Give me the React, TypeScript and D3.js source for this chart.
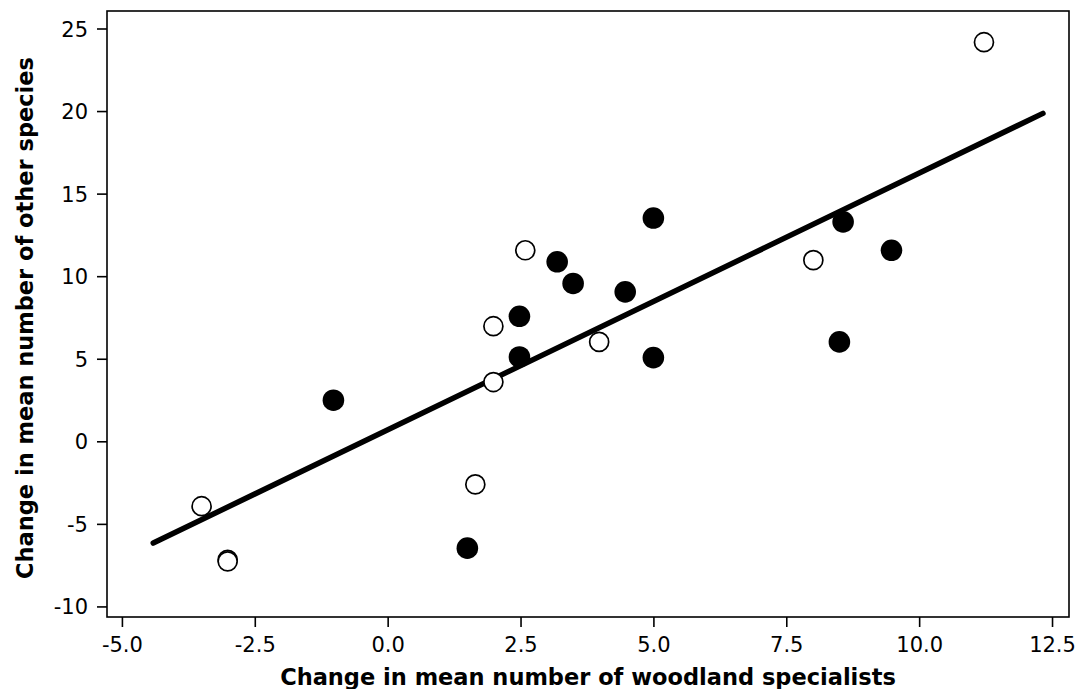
import React from "react";
import * as d3 from "d3";

const openX = [11.21, 8.0, 2.58, 1.98, 3.97, 1.98, 1.64, -3.51, -3.02, -3.02];
const openY = [24.2, 11.0, 11.6, 7.0, 6.05, 3.62, -2.58, -3.9, -7.15, -7.24];
const filledX = [-1.03, 1.49, 2.47, 2.47, 3.18, 3.48, 4.46, 4.99, 4.99, 8.56, 9.47, 8.49];
const filledY = [2.52, -6.44, 7.6, 5.14, 10.9, 9.59, 9.08, 5.1, 13.55, 13.32, 11.6, 6.05];
const fitX = [-4.42, 12.32];
const fitY = [-6.13, 19.89];
const xTicks = [-5, -2.5, 0, 2.5, 5, 7.5, 10, 12.5];
const yTicks = [-10, -5, 0, 5, 10, 15, 20, 25];
const xTitle = "Change in mean number of woodland specialists";
const yTitle = "Change in mean number of other species";

const W = 1080;
const H = 689;
const L = 107, R = 1069, T = 11, B = 617;
const FONT = "'DejaVu Sans', Verdana, sans-serif";

export default function App() {
  const x = d3.scaleLinear().domain([-5.29, 12.81]).range([L, R]);
  const y = d3.scaleLinear().domain([-10.61, 26.09]).range([B, T]);
  const fmt = (v: number) => d3.format(".1f")(v).replace("\u2212", "-");
  const lineGen = d3
    .line<number>()
    .x((d) => x(fitX[d]))
    .y((d) => y(fitY[d]));

  return (
    <div style={{ position: "absolute", left: 0, top: 0 }}>
      <svg width={W} height={H} style={{ display: "block", background: "#fff" }}>
        <rect x={0} y={0} width={W} height={H} fill="#fff" />
        <rect x={L} y={T} width={R - L} height={B - T} fill="none" stroke="#000" strokeWidth={1.6} />
        {xTicks.map((t) => (
          <g key={"x" + t}>
            <line x1={x(t)} x2={x(t)} y1={B} y2={B + 10} stroke="#000" strokeWidth={1.6} />
            <text x={x(t)} y={652} textAnchor="middle" fontFamily={FONT} fontSize={21} fill="#000">
              {fmt(t)}
            </text>
          </g>
        ))}
        {yTicks.map((t) => (
          <g key={"y" + t}>
            <line x1={L - 10} x2={L} y1={y(t)} y2={y(t)} stroke="#000" strokeWidth={1.6} />
            <text x={88} y={y(t)} dy="0.36em" textAnchor="end" fontFamily={FONT} fontSize={21} fill="#000">
              {String(t)}
            </text>
          </g>
        ))}
        <path d={lineGen([0, 1]) || ""} stroke="#000" strokeWidth={5.5} strokeLinecap="round" fill="none" />
        {filledX.map((v, i) => (
          <circle key={"f" + i} cx={x(v)} cy={y(filledY[i])} r={10.8} fill="#000" />
        ))}
        {openX.map((v, i) => (
          <circle key={"o" + i} cx={x(v)} cy={y(openY[i])} r={9.5} fill="#fff" stroke="#000" strokeWidth={1.7} />
        ))}
        <text x={(L + R) / 2} y={685} textAnchor="middle" fontFamily={FONT} fontWeight="bold" fontSize={22.5} fill="#000">
          {xTitle}
        </text>
        <text
          transform={`translate(33, ${(T + B) / 2 + 4}) rotate(-90)`}
          textAnchor="middle"
          fontFamily={FONT}
          fontWeight="bold"
          fontSize={22.5}
          fill="#000"
        >
          {yTitle}
        </text>
      </svg>
    </div>
  );
}
